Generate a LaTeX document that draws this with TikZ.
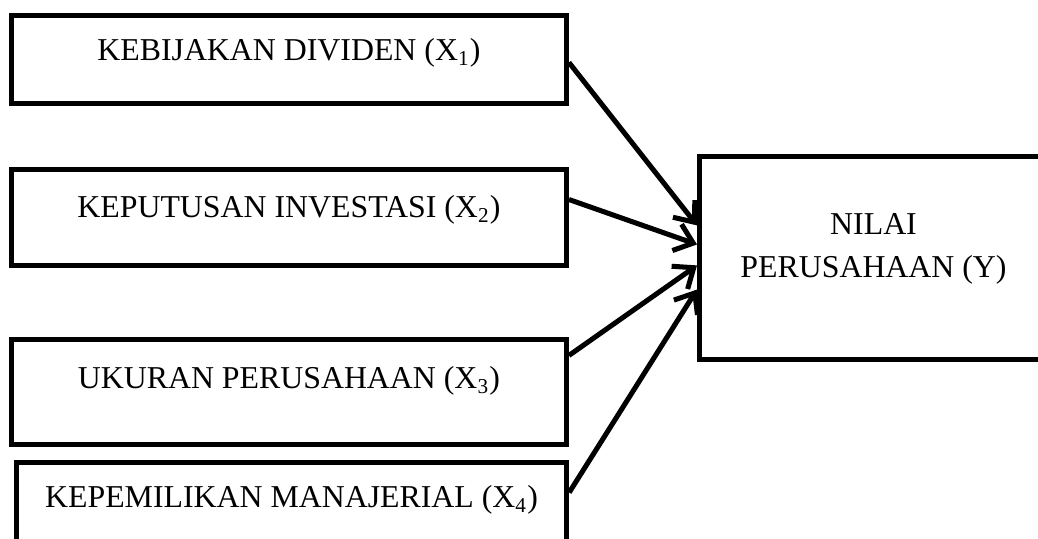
\documentclass[tikz,border=0pt]{standalone}
\usepackage{fontspec}
\setmainfont{Liberation Serif}
\usetikzlibrary{arrows.meta, positioning}

\begin{document}
\begin{tikzpicture}[x=0.377pt, y=-0.377pt, >={Straight Barb[length=6.5pt,width=10.5pt]},
  varbox/.style={draw, line width=1.9pt, anchor=north west, inner xsep=0pt, inner ysep=0pt,
    minimum width=209.2pt, font=\fontsize{12}{14.4}\selectfont},
  link/.style={->, line width=1.9pt}]
  \useasboundingbox (0,0) rectangle (1038,538);
  % variabel independen
  \node[varbox, text height=17pt, text depth=16.2pt] (divid) at (9,13) {KEBIJAKAN DIVIDEN (X\textsubscript{1})};
  \node[varbox, text height=18.1pt, text depth=18.1pt] (invest) at (9,167) {KEPUTUSAN INVESTASI (X\textsubscript{2})};
  \node[varbox, text height=18.5pt, text depth=21.1pt] (ukuran) at (9,337) {UKURAN PERUSAHAAN (X\textsubscript{3})};
  \node[varbox, minimum width=207.4pt, text height=17pt, text depth=13.2pt] (manaj) at (14,460) {KEPEMILIKAN MANAJERIAL (X\textsubscript{4})};
  % variabel dependen
  \node[varbox, minimum width=131.2pt, align=center, text height=45.6pt, text depth=30.9pt,
    font=\fontsize{12}{16.2}\selectfont] (nilai) at (697,154) {NILAI\\PERUSAHAAN (Y)};
  % pengaruh X -> Y
  \draw[link] ([yshift=-1.1pt]divid.east) -- ([yshift=12.3pt]nilai.west);
  \draw[link] ([yshift=6.8pt]invest.east) -- ([yshift=5.1pt]nilai.west);
  \draw[link] ([yshift=13.8pt]ukuran.east) -- ([yshift=-2.8pt]nilai.west);
  \draw[link] ([yshift=3.8pt]manaj.east) -- ([yshift=-11.9pt]nilai.west);
\end{tikzpicture}
\end{document}
